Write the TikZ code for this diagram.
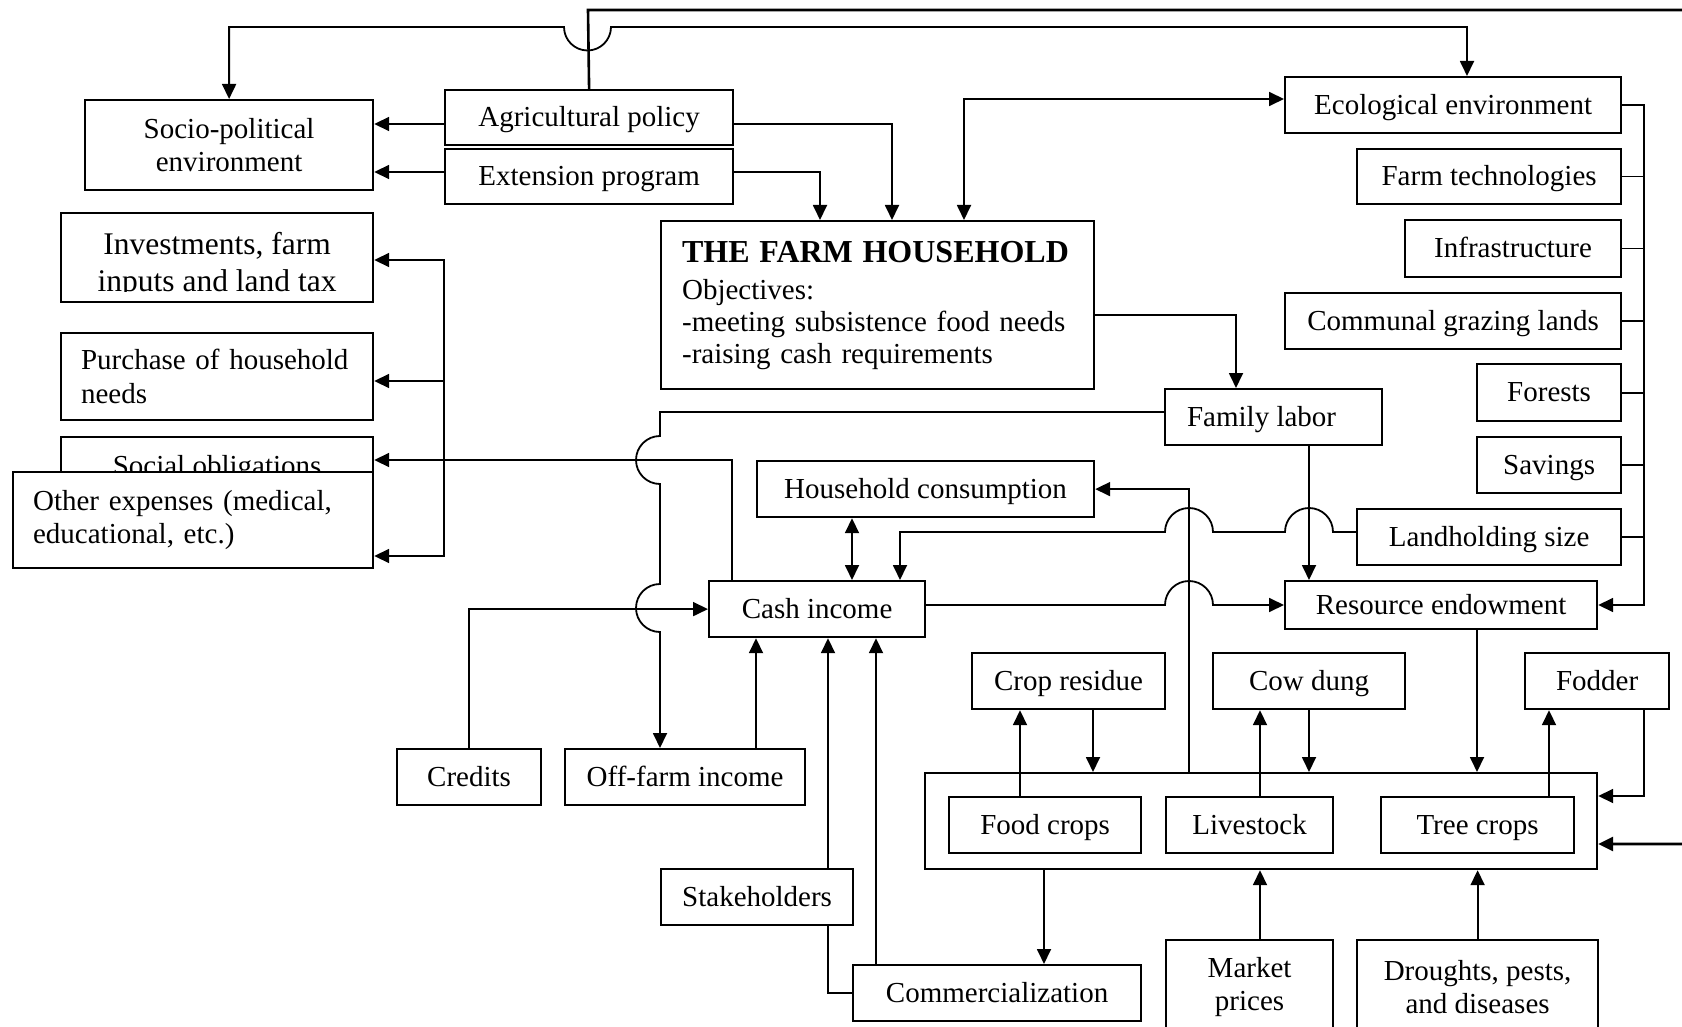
\documentclass[tikz,border=0pt]{standalone}
\usepackage{fontspec}
\setmainfont{Liberation Serif}
\usetikzlibrary{arrows.meta}
% \boxat[options]{name}{x1}{y1}{x2}{y2}{text}: a box given by its corners
\newcommand\boxat[7][]{%
  \node[box,anchor=north west,minimum width={#5pt-#3pt},minimum height={#6pt-#4pt},#1] (#2) at (#3,#4) {#7};}
\begin{document}
\begin{tikzpicture}[x=1pt,y=-1pt,
  box/.style={draw,line width=2.2pt,fill=white,inner sep=0pt,align=center,
    font=\fontsize{29}{33.5}\selectfont,text height=22pt,text depth=4pt},
  multi/.style={text height=,text depth=},
  link/.style={line width=1.8pt},
  tip/.tip={Triangle[length=15pt,width=14pt]},
  arr/.style={link,-tip},
  darr/.style={link,tip-tip}]
\useasboundingbox (0,0) rectangle (1682,1027);

% ---------- boxes ----------
\boxat[multi]{socio}{84}{99}{372}{189}{Socio-political\\environment}
\boxat{agri}{444}{89}{732}{144}{Agricultural policy}
\boxat{ext}{444}{148}{732}{203}{Extension program}
\boxat[multi,font=\fontsize{31.5}{37}\selectfont]{inv}{60}{212}{372}{301}{\rule{0pt}{37pt}Investments, farm\\inputs and land tax}
\fill[white] (61.5,292) rectangle (370.5,299.5);
\boxat[multi,text width=272pt,align=left]{pur}{60}{332}{372}{419}{Purchase of household\\needs}
\boxat[multi]{soc}{60}{436}{372}{498}{Social obligations}
\boxat[multi,text width=320pt,align=left]{oth}{12}{471}{372}{567}{Other expenses (medical,\\educational, etc.)}
\boxat[multi,text width=391pt,align=left,font=\fontsize{29}{32}\selectfont]{hh}{660}{220}{1093}{388}{{\fontsize{32}{32}\selectfont\bfseries THE FARM HOUSEHOLD}\\[5pt]Objectives:\\-meeting subsistence food needs\\-raising cash requirements}

\boxat{eco}{1284}{76}{1620}{132}{Ecological environment}
\boxat{tech}{1356}{148}{1620}{203}{Farm technologies}
\boxat{infra}{1404}{219}{1620}{276}{Infrastructure}
\boxat{graze}{1284}{292}{1620}{348}{Communal grazing lands}
\boxat{forest}{1476}{363}{1620}{420}{Forests}
\boxat{save}{1476}{436}{1620}{492}{Savings}
\boxat{land}{1356}{508}{1620}{564}{Landholding size}
\boxat{labor}{1164}{388}{1381}{444}{Family labor\hspace*{24pt}}

\boxat{cons}{756}{460}{1093}{516}{Household consumption}
\boxat{cash}{708}{580}{924}{636}{Cash income}
\boxat{res}{1284}{580}{1596}{628}{Resource endowment}
\boxat{resid}{971}{652}{1164}{708}{Crop residue}
\boxat{dung}{1212}{652}{1404}{708}{Cow dung}
\boxat{fodder}{1524}{652}{1668}{708}{Fodder}
\boxat{credit}{396}{748}{540}{804}{Credits}
\boxat{offfarm}{564}{748}{804}{804}{Off-farm income}

\boxat{prod}{924}{772}{1596}{868}{}
\boxat{food}{948}{796}{1140}{852}{Food crops}
\boxat{stock}{1165}{796}{1332}{852}{Livestock}
\boxat{tree}{1380}{796}{1573}{852}{Tree crops}
\boxat{stake}{660}{868}{852}{924}{Stakeholders}
\boxat{comm}{852}{964}{1140}{1020}{Commercialization}
\boxat[multi]{market}{1165}{939}{1332}{1033}{Market\\prices}
\boxat[multi]{pest}{1356}{939}{1597}{1033}{Droughts, pests,\\and diseases}

% ---------- connectors ----------
% agricultural policy around the top into the production system
\coordinate (topL) at (588,10);
\coordinate (topR) at (1700,10);
\draw[arr,line width=2.6pt] (agri.north) -- (topL) -- (topR) |- (prod.east |- 0,844);

% socio-political <-> ecological, hopping over the policy line
\draw[darr] (socio.north) |- (564,27) arc[start angle=180,end angle=360,radius=23.5pt]
  -- (1467,27) -- (eco.north -| 1467,0);

% policy and extension
\draw[arr] (agri.west |- 0,124) -- (socio.east |- 0,124);
\draw[arr] (ext.west |- 0,172) -- (socio.east |- 0,172);
\draw[arr] (agri.east |- 0,124) -| (hh.north -| 892,0);
\draw[arr] (ext.east |- 0,172) -| (hh.north -| 820,0);

% household <-> ecological environment
\draw[darr] (hh.north -| 964,0) |- (eco.west |- 0,99);

% household -> family labor
\draw[arr] (hh.east |- 0,315) -| (labor.north -| 1236,0);

% cash income spending
\draw[arr] (cash.north -| 732,0) |- (soc.east |- 0,460);
\coordinate (busL) at (444,460);
\draw[arr] (busL) |- (inv.east |- 0,260);
\draw[arr] (busL) |- (pur.east |- 0,381);
\draw[arr] (busL) |- (oth.east |- 0,556);

% family labor -> off-farm income, hopping over two lines
\draw[arr] (labor.west |- 0,412) -- (660,412) -- (660,436)
  arc[start angle=90,end angle=270,radius=24pt] -- (660,584)
  arc[start angle=90,end angle=270,radius=24pt] -- (offfarm.north -| 660,0);

% sources of cash income
\draw[arr] (credit.north) |- (cash.west);
\draw[arr] (offfarm.north -| 756,0) -- (cash.south -| 756,0);
\draw[link] (comm.west) -| (stake.south -| 828,0);
\draw[arr] (stake.north -| 828,0) -- (cash.south -| 828,0);
\draw[arr] (comm.north -| 876,0) -- (cash.south -| 876,0);
\draw[darr] (cons.south -| 852,0) -- (cash.north -| 852,0);

% landholding size -> cash income
\draw[arr] (land.west |- 0,532) -- (1333,532) arc[start angle=0,end angle=180,radius=24pt]
  -- (1213,532) arc[start angle=0,end angle=180,radius=24pt] -- (900,532) -- (cash.north -| 900,0);

% production -> household consumption
\draw[arr] (prod.north -| 1189,0) |- (cons.east);

% family labor and cash income -> resource endowment
\draw[arr] (labor.south -| 1309,0) -- (res.north -| 1309,0);
\draw[arr] (cash.east |- 0,605) -- (1165,605) arc[start angle=180,end angle=0,radius=24pt]
  -- (res.west |- 0,605);

% right-hand bus into resource endowment
\coordinate (busR) at (1644,605);
\draw[arr] (eco.east) -| (busR) -- (res.east |- busR);
\foreach \n in {tech,infra,graze,forest,save,land}
  \draw[link] (\n.east) -- (\n.east -| busR);

% resource endowment -> production
\draw[arr] (res.south -| 1477,0) -- (prod.north -| 1477,0);

% by-products
\draw[arr] (food.north -| 1020,0) -- (resid.south -| 1020,0);
\draw[arr] (resid.south -| 1093,0) -- (prod.north -| 1093,0);
\draw[arr] (stock.north -| 1260,0) -- (dung.south -| 1260,0);
\draw[arr] (dung.south -| 1309,0) -- (prod.north -| 1309,0);
\draw[arr] (tree.north -| 1549,0) -- (fodder.south -| 1549,0);
\draw[arr] (fodder.south -| 1644,0) |- (prod.east |- 0,796);

% production outputs and external factors
\draw[arr] (prod.south -| 1044,0) -- (comm.north -| 1044,0);
\draw[arr] (market.north -| 1260,0) -- (prod.south -| 1260,0);
\draw[arr] (pest.north) -- (prod.south -| pest.north);
\end{tikzpicture}
\end{document}
